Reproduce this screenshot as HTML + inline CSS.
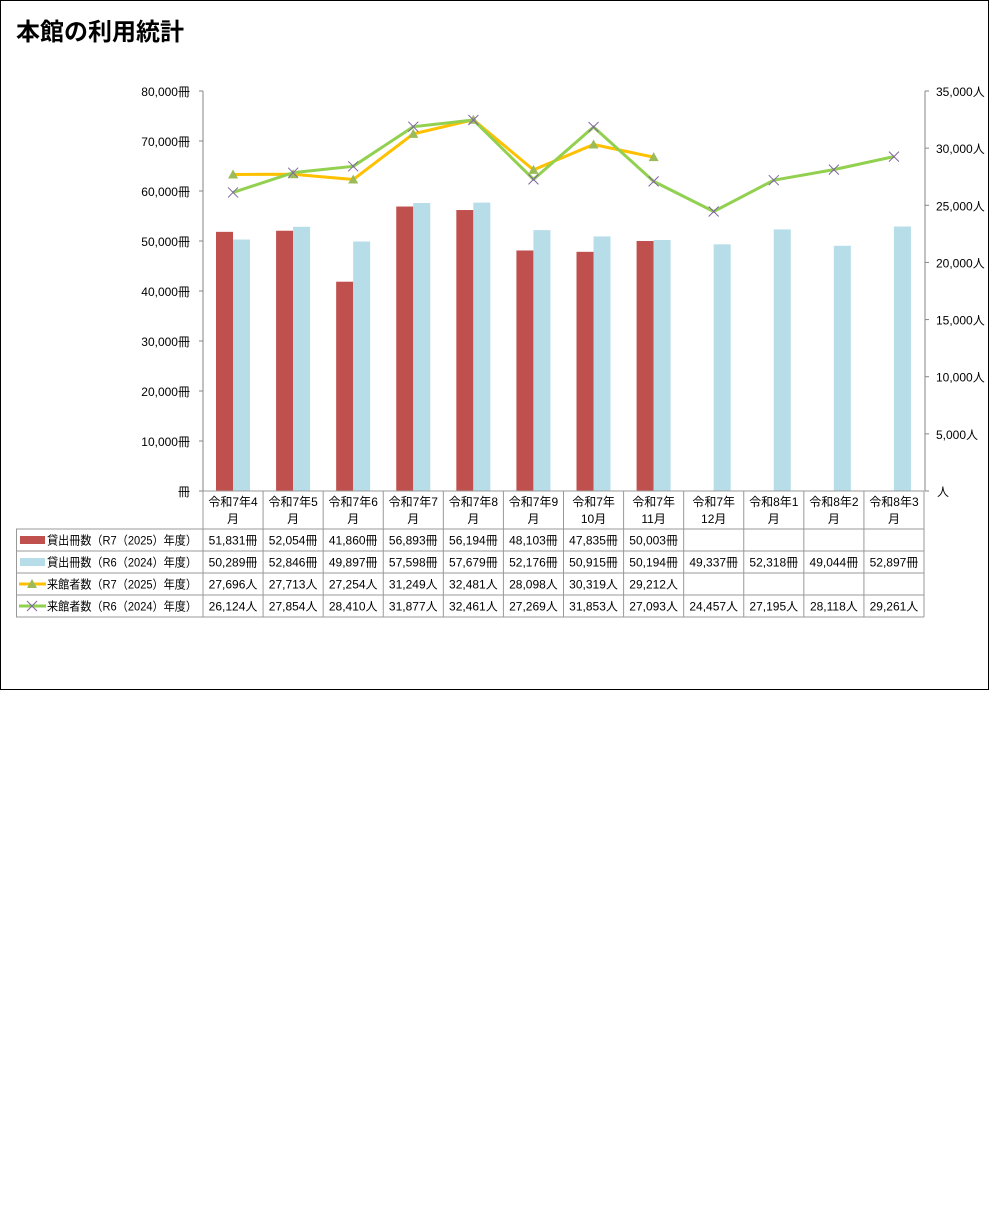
<!DOCTYPE html>
<html><head><meta charset="utf-8"><style>
body{margin:0;background:#fff;width:989px;height:1211px;overflow:hidden}
svg{display:block;font-family:"Liberation Sans","Noto Sans CJK JP",sans-serif}
</style></head><body>
<svg id="chart" width="989" height="1211">
<rect x="0.5" y="0.5" width="988" height="689" fill="#fff" stroke="#000"/>
<text x="16" y="40" font-size="24" font-weight="bold">本館の利用統計</text>
<g id="g"></g>
</svg>
<script>
const categories1=["令和7年4","令和7年5","令和7年6","令和7年7","令和7年8","令和7年9","令和7年","令和7年","令和7年","令和8年1","令和8年2","令和8年3"];
const categories2=["月","月","月","月","月","月","10月","11月","12月","月","月","月"];
const loansR7=[51831,52054,41860,56893,56194,48103,47835,50003,null,null,null,null];
const loansR6=[50289,52846,49897,57598,57679,52176,50915,50194,49337,52318,49044,52897];
const visitsR7=[27696,27713,27254,31249,32481,28098,30319,29212,null,null,null,null];
const visitsR6=[26124,27854,28410,31877,32461,27269,31853,27093,24457,27195,28118,29261];
const leftTicks=[0,10000,20000,30000,40000,50000,60000,70000,80000];
const rightTicks=[0,5000,10000,15000,20000,25000,30000,35000];
const seriesNames=["貸出冊数（R7（2025）年度）","貸出冊数（R6（2024）年度）","来館者数（R7（2025）年度）","来館者数（R6（2024）年度）"];

const NS="http://www.w3.org/2000/svg";
const g=document.getElementById('g');
const X0=203,X1=924,Y0=491,Y1=91,cw=(X1-X0)/12;
const yL=v=>Y0-(v/80000)*(Y0-Y1);
const yR=v=>Y0-(v/35000)*(Y0-Y1);
const cx=i=>X0+cw*(i+0.5);
function el(t,a,txt){const e=document.createElementNS(NS,t);for(const k in a)e.setAttribute(k,a[k]);if(txt!=null)e.textContent=txt;g.appendChild(e);return e;}
const fmt=v=>v.toLocaleString('en-US');

let e=el('line',{x1:X0,y1:Y1,x2:X0,y2:Y0,stroke:'#868686'});


e=el('line',{x1:X1+1,y1:Y1,x2:X1+1,y2:Y0,stroke:'#868686'});


leftTicks.forEach(v=>{
  el('line',{x1:X0-4,y1:yL(v),x2:X0,y2:yL(v),stroke:'#868686'});
  e=el('text',{x:190,y:yL(v)+5,'font-size':12,'text-anchor':'end'},(v===0?'':fmt(v))+'冊');
  
  
});
rightTicks.forEach(v=>{
  el('line',{x1:X1+1,y1:yR(v),x2:X1+5,y2:yR(v),stroke:'#868686'});
  e=el('text',{x:v===0?937:936,y:yR(v)+5,'font-size':12},(v===0?'':fmt(v))+'人');
  
  
});

for(let i=0;i<12;i++){
  const bx=X0+cw*i+13;
  if(loansR7[i]!=null){e=el('rect',{x:bx,y:yL(loansR7[i]),width:17,height:Y0-yL(loansR7[i]),fill:'#C0504D'});
  
  }
  if(loansR6[i]!=null){e=el('rect',{x:bx+17,y:yL(loansR6[i]),width:17,height:Y0-yL(loansR6[i]),fill:'#B7DDE8'});
  
  }
}
function line(data,color,name){
  const pts=[];data.forEach((v,i)=>{if(v!=null)pts.push(cx(i)+','+yR(v));});
  e=el('polyline',{points:pts.join(' '),fill:'none',stroke:color,'stroke-width':3,'stroke-linejoin':'round'});
  
  
}
line(visitsR7,'#FFC000','line-visits-r7');
line(visitsR6,'#92D050','line-visits-r6');
visitsR7.forEach((v,i)=>{if(v==null)return;const x=cx(i),y=yR(v);
  e=el('polygon',{points:`${x},${y-5} ${x+5},${y+4} ${x-5},${y+4}`,fill:'#9BBB59'});
  
  });
visitsR6.forEach((v,i)=>{if(v==null)return;const x=cx(i),y=yR(v);
  e=el('path',{d:`M${x-5},${y-5}L${x+5},${y+5}M${x+5},${y-5}L${x-5},${y+5}`,stroke:'#8064A2','stroke-width':1});
  
  });

const rows=[491,529,551,573,595,617];
const stroke='#999';
el('line',{x1:X0,y1:Y0,x2:X1,y2:Y0,stroke:stroke});
for(let r=1;r<rows.length;r++) el('line',{x1:16,y1:rows[r],x2:X1,y2:rows[r],stroke:stroke});
el('line',{x1:16.5,y1:529,x2:16.5,y2:617,stroke:stroke});
for(let i=0;i<=12;i++) el('line',{x1:X0+cw*i,y1:491,x2:X0+cw*i,y2:617,stroke:stroke});
for(let i=0;i<12;i++){
  e=el('text',{x:cx(i),y:506,'font-size':12,'text-anchor':'middle'},categories1[i]);
  
  
  el('text',{x:cx(i),y:523,'font-size':12,'text-anchor':'middle'},categories2[i]);
}
const tdata=[loansR7,loansR6,visitsR7,visitsR6];
const units=['冊','冊','人','人'];
tdata.forEach((arr,r)=>{
  const ty=(rows[r+1]+rows[r+2])/2+4.5;
  arr.forEach((v,i)=>{if(v==null)return;
    e=el('text',{x:cx(i),y:ty,'font-size':12,'text-anchor':'middle'},fmt(v)+units[r]);
    
    });
  e=el('text',{x:47,y:ty,'font-size':12,textLength:150,lengthAdjust:'spacingAndGlyphs'},seriesNames[r]);
  
  
  const my=ty-4.5;
  if(r===0) el('rect',{x:20,y:my-4,width:25,height:8,fill:'#C0504D'});
  if(r===1) el('rect',{x:20,y:my-4,width:25,height:8,fill:'#B7DDE8'});
  if(r===2){el('line',{x1:19,y1:my,x2:46,y2:my,stroke:'#FFC000','stroke-width':3});
    el('polygon',{points:`32,${my-5} 37,${my+4} 27,${my+4}`,fill:'#9BBB59'});}
  if(r===3){el('line',{x1:19,y1:my,x2:46,y2:my,stroke:'#92D050','stroke-width':3});
    el('path',{d:`M27,${my-5}L37,${my+5}M37,${my-5}L27,${my+5}`,stroke:'#8064A2'});}
});
</script>
</body></html>
